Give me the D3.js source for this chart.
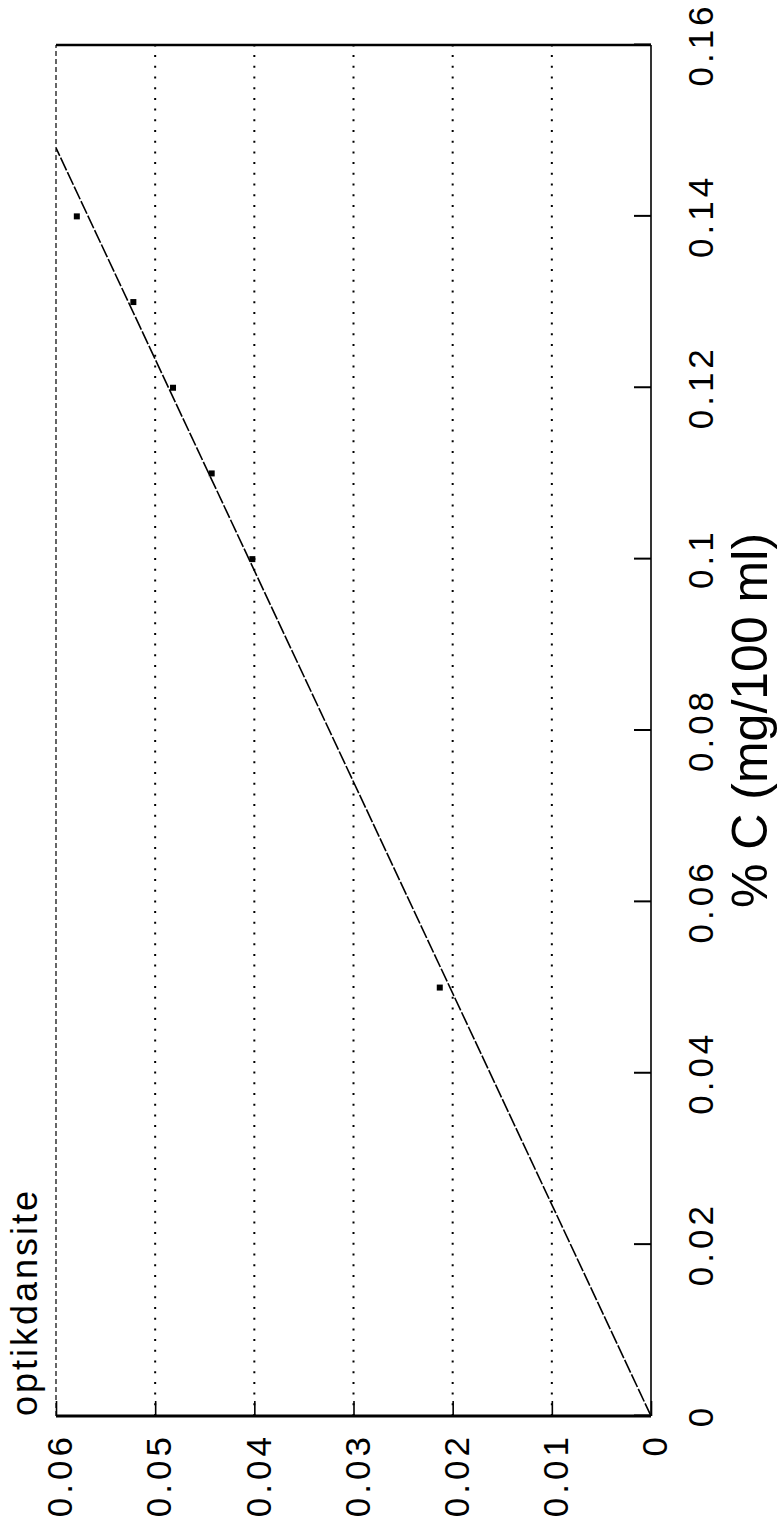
<!DOCTYPE html>
<html>
<head>
<meta charset="utf-8">
<script src="https://cdn.jsdelivr.net/npm/d3@7"></script>
<style>
body { margin: 0; background: #fff; }
svg { display: block; }
text { font-family: "Liberation Sans", Arial, sans-serif; fill: #000; }
</style>
</head>
<body>
<div id="chart"></div>
<script>
// values
const xTicks = [0, 0.02, 0.04, 0.06, 0.08, 0.1, 0.12, 0.14, 0.16];
const xTickLabels = ["0", "0.02", "0.04", "0.06", "0.08", "0.1", "0.12", "0.14", "0.16"];
const yTicks = [0, 0.01, 0.02, 0.03, 0.04, 0.05, 0.06];
const yTickLabels = ["0", "0.01", "0.02", "0.03", "0.04", "0.05", "0.06"];
const gridY = [0.01, 0.02, 0.03, 0.04, 0.05];

// measured points (% C, optical density)
const pointX = [0.05, 0.10, 0.11, 0.12, 0.13, 0.14];
const pointY = [0.0213, 0.0402, 0.0443, 0.0482, 0.0522, 0.0579];

// fitted line end points
const fitX = [0, 0.148];
const fitY = [0, 0.06];

const xLabel = "% C (mg/100 ml)";
const yLabel = "optikdansite";

// the whole plot is turned a quarter turn counter-clockwise
const W = 1371, H = 595;
const svg = d3.select('#chart').append('svg')
    .attr('width', 779)
    .attr('height', 1526);

const g = svg.append('g')
    .attr('transform', 'translate(56,1416) rotate(-90)');

const x = d3.scaleLinear([0, 0.16], [0, W]);
const y = d3.scaleLinear([0, 0.06], [H, 0]);

svg.append('defs').append('clipPath').attr('id', 'plotclip')
    .append('rect').attr('x', 0).attr('y', 0).attr('width', W).attr('height', H);

// dotted grid
g.append('g')
    .selectAll('line')
    .data(gridY)
    .join('line')
    .attr('x1', 0)
    .attr('x2', W)
    .attr('y1', d => y(d))
    .attr('y2', d => y(d))
    .attr('stroke', '#000')
    .attr('stroke-width', 2)
    .attr('stroke-dasharray', '2,8.7');

// box
g.append('line').attr('x1', 0).attr('x2', W).attr('y1', 0).attr('y2', 0)
    .attr('stroke', '#000').attr('stroke-width', 1.2).attr('stroke-dasharray', '5,3');
g.append('line').attr('x1', W).attr('x2', W).attr('y1', 0).attr('y2', H)
    .attr('stroke', '#000').attr('stroke-width', 2.5);
g.append('line').attr('x1', 0).attr('x2', W).attr('y1', H).attr('y2', H)
    .attr('stroke', '#000').attr('stroke-width', 1.6);
g.append('line').attr('x1', 0).attr('x2', 0).attr('y1', 0).attr('y2', H)
    .attr('stroke', '#000').attr('stroke-width', 3);

// axes
let xAxis = g.append('g')
    .attr('transform', `translate(0,${H})`)
    .call(d3.axisBottom(x)
        .tickValues(xTicks)
        .tickFormat((d, i) => xTickLabels[i])
        .tickSizeInner(-17)
        .tickSizeOuter(0));
xAxis.select('.domain').remove();
xAxis.selectAll('.tick line').attr('stroke-width', 2);
xAxis.selectAll('text')
    .attr('y', 62)
    .attr('dy', null)
    .style('font-size', '35px')
    .style('letter-spacing', '4px');

let yAxis = g.append('g')
    .call(d3.axisLeft(y)
        .tickValues(yTicks)
        .tickFormat((d, i) => yTickLabels[i])
        .tickSizeInner(-15)
        .tickSizeOuter(0));
yAxis.select('.domain').remove();
yAxis.selectAll('.tick line').attr('stroke-width', 1.6);
yAxis.selectAll('text')
    .attr('x', -17)
    .attr('dy', '0.45em')
    .style('font-size', '35px')
    .style('letter-spacing', '4px');

// fitted line
g.append('path')
    .datum(fitX.map((d, i) => [d, fitY[i]]))
    .attr('clip-path', 'url(#plotclip)')
    .attr('fill', 'none')
    .attr('stroke', '#000')
    .attr('stroke-width', 1.6)
    .attr('stroke-dasharray', '14,2')
    .attr('d', d3.line().x(d => x(d[0])).y(d => y(d[1])));

// points
g.append('g')
    .selectAll('rect')
    .data(pointX.map((d, i) => [d, pointY[i]]))
    .join('rect')
    .attr('x', d => x(d[0]) - 3)
    .attr('y', d => y(d[1]) - 3)
    .attr('width', 6)
    .attr('height', 6)
    .attr('fill', '#000');

// labels
g.append('text')
    .attr('x', W / 2 + 10)
    .attr('y', H + 116)
    .attr('text-anchor', 'middle')
    .style('font-size', '50px')
    .text(xLabel);

g.append('text')
    .attr('x', 0)
    .attr('y', -19)
    .style('font-size', '36px')
    .style('letter-spacing', '3px')
    .text(yLabel);
</script>
</body>
</html>
